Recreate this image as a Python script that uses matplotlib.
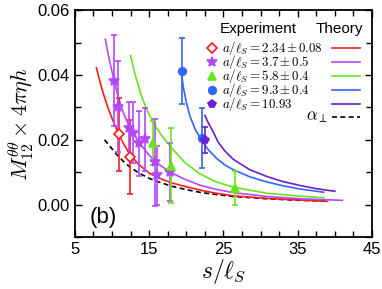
import numpy as np
import matplotlib
matplotlib.use("Agg")
import matplotlib.pyplot as plt
from matplotlib.ticker import MultipleLocator, FormatStrFormatter

plt.rcParams['font.family'] = ['Liberation Sans', 'DejaVu Sans']
plt.rcParams['mathtext.fontset'] = 'cm'

# colours of the five samples (a/l_S)
colors = ['#ff1a1a', '#b447ff', '#66e619', '#2f66ff', '#6a1fd0']
markers = ['D', '*', '^', 'o', 'p']
labels = [r'$a/\ell_S = 2.34\,{\pm}\,0.08$', r'$a/\ell_S = 3.7\,{\pm}\,0.5$',
          r'$a/\ell_S = 5.8\,{\pm}\,0.4$', r'$a/\ell_S = 9.3\,{\pm}\,0.4$',
          r'$a/\ell_S = 10.93$']
xticks = [5, 15, 25, 35, 45]

# experiment
exp_s = [
    [10.97, 12.4],
    [10.25, 10.85, 12.25, 12.85, 13.6, 14.4, 15.85, 16.1, 17.8],
    [15.55, 18.0, 26.6],
    [19.37, 22.05],
    [22.5],
]
exp_m = [
    [0.0217, 0.0148],
    [0.0382, 0.0302, 0.0236, 0.0222, 0.0189, 0.0201, 0.0130, 0.0090, 0.0100],
    [0.0190, 0.0120, 0.0051],
    [0.0412, 0.0205],
    [0.0199],
]
exp_err = [
    [0.0113, 0.0114],
    [0.0140, 0.0141, 0.0082, 0.0095, 0.0100, 0.0097, 0.0135, 0.0090, 0.0090],
    [0.0068, 0.0115, 0.0053],
    [0.0102, 0.0093],
    [0.0040],
]

# theory
th_s = [
    [7.9, 8.5, 9.0, 9.5, 10.0, 10.8, 11.5, 12.4, 13.5, 15.0, 16.5, 18.0, 20.0, 22.0, 24.0, 26.3, 30.8, 35.3, 39.0],
    [9.1, 9.5, 10.0, 10.8, 11.5, 12.2, 13.5, 15.0, 16.5, 18.0, 19.8, 21.8, 24.0, 26.3, 30.8, 35.3, 41.0],
    [12.5, 13.0, 13.5, 14.0, 14.7, 15.5, 16.7, 18.0, 19.8, 21.8, 24.0, 26.3, 30.8, 35.3, 38.5],
    [19.3, 19.6, 20.0, 20.5, 21.2, 22.0, 23.0, 24.1, 25.2, 26.3, 28.5, 30.8, 33.0, 35.3, 38.5],
    [22.5, 23.0, 23.6, 24.3, 25.2, 26.3, 28.5, 30.8, 33.0, 35.3, 37.5, 40.0],
]
th_m = [
    [0.0422, 0.0368, 0.0330, 0.0296, 0.0266, 0.0222, 0.0190, 0.0155, 0.0126, 0.0097, 0.0080, 0.0067, 0.0055, 0.0044, 0.0035, 0.0027, 0.0019, 0.0014, 0.0010],
    [0.0510, 0.0462, 0.0410, 0.0335, 0.0285, 0.0247, 0.0196, 0.0152, 0.0121, 0.0098, 0.0078, 0.0060, 0.0047, 0.0037, 0.0025, 0.0018, 0.0013],
    [0.0460, 0.0410, 0.0370, 0.0333, 0.0292, 0.0254, 0.0212, 0.0175, 0.0130, 0.0095, 0.0070, 0.0054, 0.0035, 0.0026, 0.0021],
    [0.0415, 0.0362, 0.0315, 0.0272, 0.0232, 0.0200, 0.0168, 0.0142, 0.0122, 0.0108, 0.0086, 0.0070, 0.0058, 0.0048, 0.0038],
    [0.0275, 0.0250, 0.0225, 0.0192, 0.0165, 0.0140, 0.0108, 0.0087, 0.0071, 0.0059, 0.0049, 0.0041],
]

# alpha_perp
perp_s = [9.0, 9.5, 10.0, 10.8, 11.5, 12.4, 13.5, 15.0, 16.5, 18.0, 20.0, 22.0, 24.0, 26.3, 30.8, 35.3, 38.9]
perp_m = [0.0200, 0.0186, 0.0172, 0.0150, 0.0134, 0.0116, 0.0099, 0.0081, 0.0068, 0.0057, 0.0046, 0.0037, 0.0031, 0.0025, 0.0018, 0.0013, 0.0011]

fig = plt.figure(figsize=(3.82, 2.89), dpi=100)
ax = fig.add_axes([0.196, 0.18, 0.778, 0.785])

ax.plot(perp_s, perp_m, color='k', lw=1.2, ls=(0, (3, 2)), zorder=2)
for i in range(5):
    ax.plot(th_s[i], th_m[i], color=colors[i], lw=1.2, zorder=2)

for i in range(5):
    face = 'white' if i == 0 else colors[i]
    ms = 8 if markers[i] == '*' else 5.5
    ax.errorbar(exp_s[i], exp_m[i], yerr=exp_err[i], fmt=markers[i], color=colors[i],
                mfc=face, mec=colors[i], mew=1.2, ms=ms, elinewidth=1.2,
                capsize=2.5, capthick=1.0, zorder=3)

ax.set_xlim(5, 45)
ax.set_ylim(-0.01, 0.06)
ax.set_xticks(xticks)
ax.xaxis.set_minor_locator(MultipleLocator(2.5))
ax.yaxis.set_major_locator(MultipleLocator(0.02))
ax.yaxis.set_minor_locator(MultipleLocator(0.01))
ax.yaxis.set_major_formatter(FormatStrFormatter('%.2f'))
ax.tick_params(which='both', direction='in', top=True, right=True, labelsize=12)
ax.tick_params(which='major', length=5, width=1)
ax.tick_params(which='minor', length=4, width=1)
for sp in ax.spines.values():
    sp.set_linewidth(1.3)

ax.set_xlabel(r'$s/\ell_S$', fontsize=17, labelpad=0)
ax.set_ylabel(r'$M_{12}^{\theta\theta} \times 4\pi\eta h$', fontsize=16, labelpad=1)
ax.text(8.8, -0.004, '(b)', fontsize=16, ha='center', va='center')

# legend drawn by hand: markers + text on the left, theory lines on the right
tr = ax.transAxes
ax.text(0.616, 0.916, 'Experiment', transform=tr, fontsize=11, ha='center', va='center')
ax.text(0.889, 0.916, 'Theory', transform=tr, fontsize=11, ha='center', va='center')
rows = [0.834, 0.773, 0.708, 0.648, 0.585]
for i in range(5):
    face = 'white' if i == 0 else colors[i]
    ms = 7.5 if markers[i] == '*' else 5.5
    ax.plot([0.46], [rows[i]], marker=markers[i], color=colors[i], mfc=face, mec=colors[i],
            mew=1.2, ms=ms, transform=tr, clip_on=False)
    ax.text(0.495, rows[i], labels[i], transform=tr, fontsize=9.3, ha='left', va='center')
    ax.plot([0.865, 0.96], [rows[i]] * 2, color=colors[i], lw=1.2, transform=tr)
ax.plot([0.865, 0.96], [0.529] * 2, color='k', lw=1.2, ls=(0, (3, 2)), transform=tr)
ax.text(0.852, 0.529, r'$\alpha_\perp$', transform=tr, fontsize=12, ha='right', va='center')

fig.savefig('out.png', dpi=100)
